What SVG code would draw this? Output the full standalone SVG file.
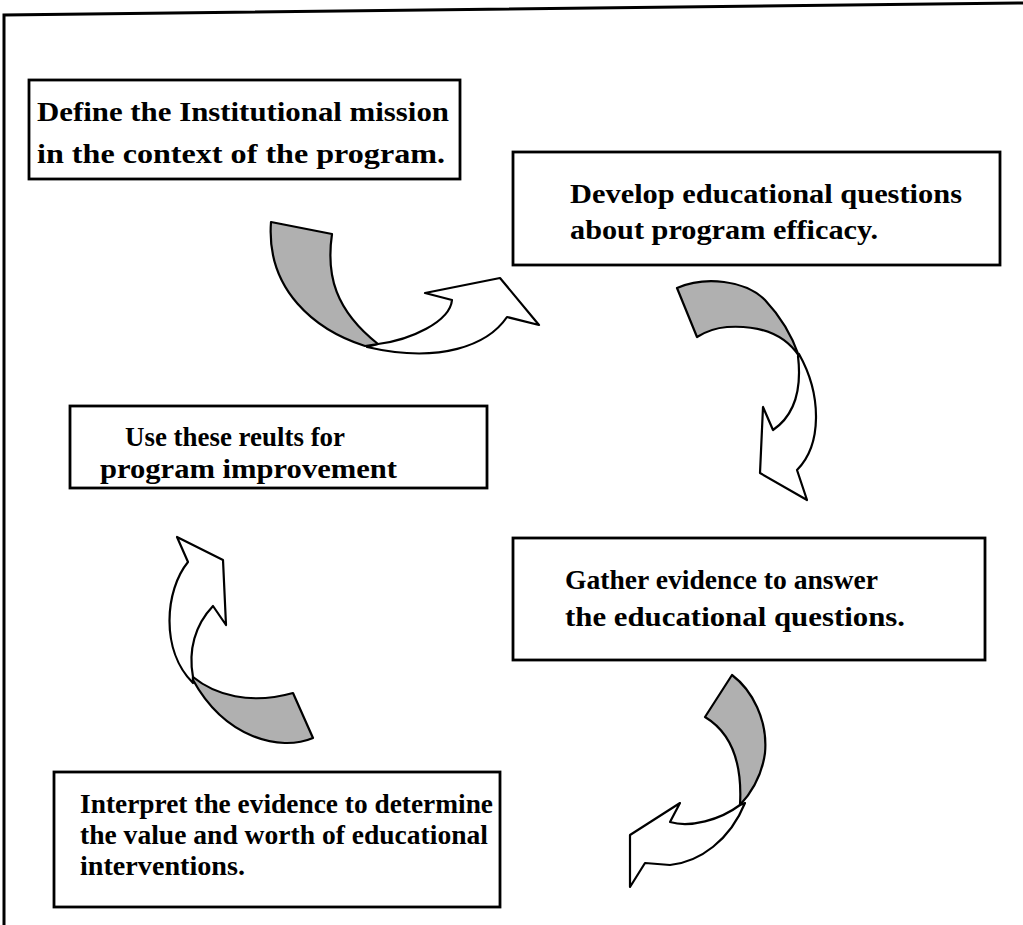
<svg xmlns="http://www.w3.org/2000/svg" width="1023" height="925" viewBox="0 0 1023 925">
<style>
.box{fill:#fff;stroke:#000;stroke-width:2.8}
.t{font-family:"Liberation Serif","Times New Roman",serif;font-weight:bold;font-size:28px;fill:#000}
.s{font-size:27px}
.sh{fill:#b0b0b0;stroke:#000;stroke-width:2.2;stroke-linejoin:round}
.wh{fill:#fff;stroke:#000;stroke-width:2.2;stroke-linejoin:round}
.frame{fill:none;stroke:#000;stroke-width:3}
</style>
<rect width="1023" height="925" fill="#fff"/>
<g id="frame">
<path class="frame" d="M4,925 L4,15 L1023,3"/>
</g>
<g id="connectors">
<g id="arrow1">
<path class="wh" d="M378,344 C410,340 450,322 452,300 L425,293 L500,278 L539,325 L507,317 C488,345 440,364 367,347 Z"/>
<path class="sh" d="M271,222 L332,234 C326,275 335,310 378,344 L365,346 C315,330 266,290 271,222 Z"/>
</g>
<g id="arrow2">
<path class="wh" d="M798,356 C802,390 795,415 773,430 L763,407 L760,473 L807,500 L797,470 C822,445 822,395 799,354 Z"/>
<path class="sh" d="M677,288 C705,276 745,280 765,300 C782,318 792,336 799,356 C785,335 760,325 727,327 C715,328 705,332 697,337 Z"/>
</g>
<g id="arrow3">
<path class="wh" d="M193,677 C188,650 195,625 213,606 L226,625 L223,560 L177,537 L188,562 C165,590 160,650 193,683 Z"/>
<path class="sh" d="M193,677 C215,695 250,705 293,693 L313,738 C280,752 225,738 193,680 Z"/>
</g>
<g id="arrow4">
<path class="wh" d="M740,805 C720,820 690,828 670,822 L680,803 L630,835 L630,887 L645,863 L670,865 C700,862 730,840 745,803 Z"/>
<path class="sh" d="M732,675 C752,690 768,720 765,753 C762,775 752,792 740,805 C742,770 735,735 705,717 Z"/>
</g>
</g>
<g id="node1">
<rect class="box" x="29" y="80" width="431" height="99"/>
<text class="t" x="37" y="121" textLength="412" lengthAdjust="spacingAndGlyphs">Define the Institutional mission</text>
<text class="t" x="37" y="163" textLength="408" lengthAdjust="spacingAndGlyphs">in the context of the program.</text>
</g>
<g id="node2">
<rect class="box" x="513" y="152" width="487" height="113"/>
<text class="t" x="570" y="203" textLength="392" lengthAdjust="spacingAndGlyphs">Develop educational questions</text>
<text class="t" x="570" y="239" textLength="308" lengthAdjust="spacingAndGlyphs">about program efficacy.</text>
</g>
<g id="node3">
<rect class="box" x="70" y="406" width="417" height="82"/>
<text class="t s" x="125" y="446" textLength="220" lengthAdjust="spacingAndGlyphs">Use these reults for</text>
<text class="t s" x="100" y="478" textLength="297" lengthAdjust="spacingAndGlyphs">program improvement</text>
</g>
<g id="node4">
<rect class="box" x="513" y="538" width="472" height="122"/>
<text class="t" x="565" y="589" textLength="313" lengthAdjust="spacingAndGlyphs">Gather evidence to answer</text>
<text class="t" x="565" y="626" textLength="340" lengthAdjust="spacingAndGlyphs">the educational questions.</text>
</g>
<g id="node5">
<rect class="box" x="54" y="772" width="446" height="135"/>
<text class="t s" x="80" y="813" textLength="413" lengthAdjust="spacingAndGlyphs">Interpret the evidence to determine</text>
<text class="t s" x="80" y="844" textLength="408" lengthAdjust="spacingAndGlyphs">the value and worth of educational</text>
<text class="t s" x="80" y="875" textLength="165" lengthAdjust="spacingAndGlyphs">interventions.</text>
</g>
</svg>
